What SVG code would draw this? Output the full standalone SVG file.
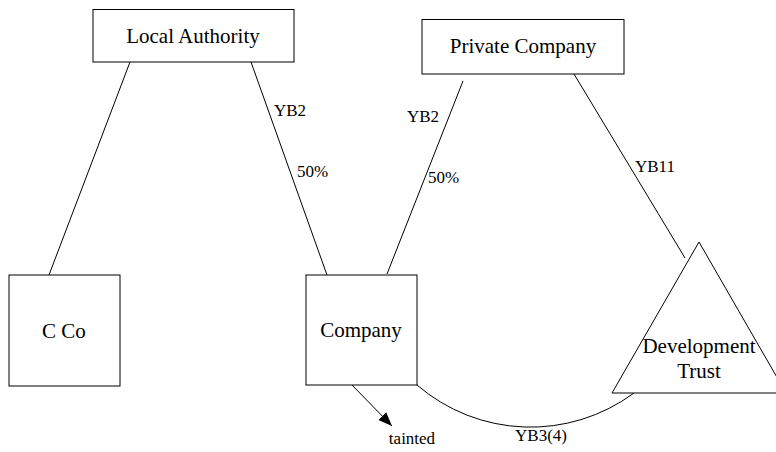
<svg xmlns="http://www.w3.org/2000/svg" width="776" height="452" viewBox="0 0 776 452">
  <style>
    .shape { fill: #fff; stroke: #000; stroke-width: 1; }
    .edge { fill: none; stroke: #000; stroke-width: 1; }
    .node-label { font-size: 21px; text-anchor: middle; }
    .edge-label { font-size: 17px; }
  </style>
  <defs>
    <marker id="arrow" markerWidth="14" markerHeight="11" refX="14" refY="5.5" orient="auto" markerUnits="userSpaceOnUse">
      <path d="M0,0 L14,5.5 L0,11 Z" fill="#000"/>
    </marker>
  </defs>
  <rect width="776" height="452" fill="#fff"/>

  <g font-family="Liberation Serif, Times New Roman, serif" fill="#000">
  <g id="connectors">
    <line class="edge" x1="130" y1="62" x2="49" y2="275"/>
    <line class="edge" x1="251" y1="62" x2="327" y2="275"/>
    <text class="edge-label" x="274" y="116">YB2</text>
    <text class="edge-label" x="297" y="177">50%</text>
    <line class="edge" x1="463" y1="81" x2="387" y2="274"/>
    <text class="edge-label" x="407" y="122">YB2</text>
    <text class="edge-label" x="428" y="183">50%</text>
    <line class="edge" x1="574" y1="74" x2="685" y2="258"/>
    <text class="edge-label" x="635" y="172">YB11</text>
    <path class="edge" d="M417,385 A174,174 0 0 0 634,393"/>
    <text class="edge-label" x="541" y="441" text-anchor="middle">YB3(4)</text>
    <line class="edge" x1="352" y1="385" x2="392" y2="426" marker-end="url(#arrow)"/>
    <text class="edge-label" x="412" y="444" text-anchor="middle">tainted</text>
  </g>

  <g id="local-authority">
    <rect class="shape" x="93" y="9.5" width="201" height="52.5"/>
    <text class="node-label" x="193" y="43">Local Authority</text>
  </g>

  <g id="private-company">
    <rect class="shape" x="422" y="19.5" width="202" height="54.5"/>
    <text class="node-label" x="523" y="53">Private Company</text>
  </g>

  <g id="c-co">
    <rect class="shape" x="9" y="275" width="111" height="111"/>
    <text class="node-label" x="64" y="338">C Co</text>
  </g>

  <g id="company">
    <rect class="shape" x="306" y="275" width="111" height="110"/>
    <text class="node-label" x="361" y="337">Company</text>
  </g>

  <g id="development-trust">
    <polygon class="shape" points="699,242 786,393 612,393"/>
    <text class="node-label" x="699" y="353">Development</text>
    <text class="node-label" x="699" y="378">Trust</text>
  </g>
  </g>
</svg>
